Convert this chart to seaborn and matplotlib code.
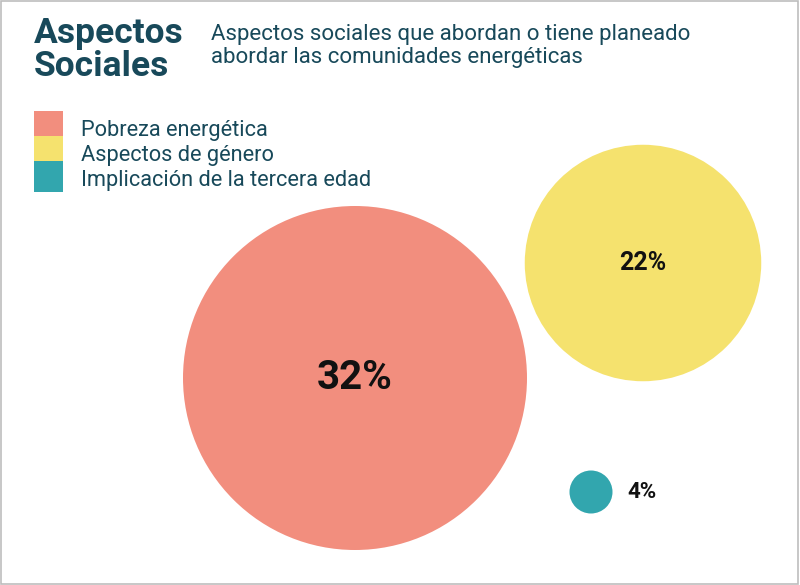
import matplotlib.pyplot as plt
from matplotlib.legend_handler import HandlerPatch
from matplotlib.patches import Patch, Rectangle
import seaborn as sns

# datos
categorias = ["Pobreza energética", "Aspectos de género", "Implicación de la tercera edad"]
porcentajes = [32, 22, 4]
etiquetas = ["32%", "22%", "4%"]
colores = ["#F28E7E", "#F5E26E", "#32A6AE"]

# disposición de las burbujas (en píxeles de la figura)
centro_x = [355, 643, 591]
centro_y = [378, 263, 492]
px_por_punto = 5.375  # radio en px por cada punto porcentual

TEAL_OSCURO = "#18495A"


def cuadro_completo(legend, orig_handle, xdescent, ydescent, width, height, fontsize):
    # cuadro que ocupa toda la altura de la fila, sin huecos entre filas
    return Rectangle((-xdescent, -ydescent), width, height + ydescent)


sns.set_theme(style="white")
plt.rcParams["font.family"] = ["Roboto", "DejaVu Sans"]

fig = plt.figure(figsize=(8, 5.85), dpi=100)
ax = fig.add_axes([0, 0, 1, 1])

# tamaño del marcador en puntos^2: radio proporcional al valor
tamanos = [(2 * p * px_por_punto * 0.72) ** 2 for p in porcentajes]
sns.scatterplot(
    x=centro_x,
    y=centro_y,
    hue=categorias,
    palette=dict(zip(categorias, colores)),
    s=tamanos,
    linewidth=0,
    legend=False,
    ax=ax,
)
ax.set_xlim(0, 800)
ax.set_ylim(585, 0)
ax.axis("off")

# etiquetas de porcentaje
ax.text(355, 378, etiquetas[0], ha="center", va="center", fontsize=29,
        fontweight="bold", color="#111111")
ax.text(643, 263, etiquetas[1], ha="center", va="center", fontsize=18,
        fontweight="bold", color="#111111")
ax.text(627, 492, etiquetas[2], ha="left", va="center", fontsize=16,
        fontweight="bold", color="#111111")

# título y subtítulo
ax.text(34, 43, "Aspectos", fontsize=25.5, fontweight="bold", color=TEAL_OSCURO,
        va="baseline", ha="left")
ax.text(34, 76, "Sociales", fontsize=25.5, fontweight="bold", color=TEAL_OSCURO,
        va="baseline", ha="left")
ax.text(211, 40, "Aspectos sociales que abordan o tiene planeado", fontsize=16,
        color=TEAL_OSCURO, va="baseline", ha="left")
ax.text(211, 63, "abordar las comunidades energéticas", fontsize=16,
        color=TEAL_OSCURO, va="baseline", ha="left")

# leyenda
handles = [Patch(facecolor=c, edgecolor="none") for c in colores]
ax.legend(
    handles, categorias,
    handler_map={Patch: HandlerPatch(patch_func=cuadro_completo)},
    loc="upper left", bbox_to_anchor=(34, 116), bbox_transform=ax.transData,
    frameon=False, fontsize=15.7, labelcolor=TEAL_OSCURO,
    handlelength=1.33, handleheight=1.40, labelspacing=0.0,
    handletextpad=0.83, borderpad=0, borderaxespad=0,
)

# marco gris
fig.patches.append(Rectangle((0.001, 0.001), 0.997, 0.997, transform=fig.transFigure,
                             fill=False, edgecolor="#BDBDBD", linewidth=1.2))

fig.savefig("out.png", dpi=100)
